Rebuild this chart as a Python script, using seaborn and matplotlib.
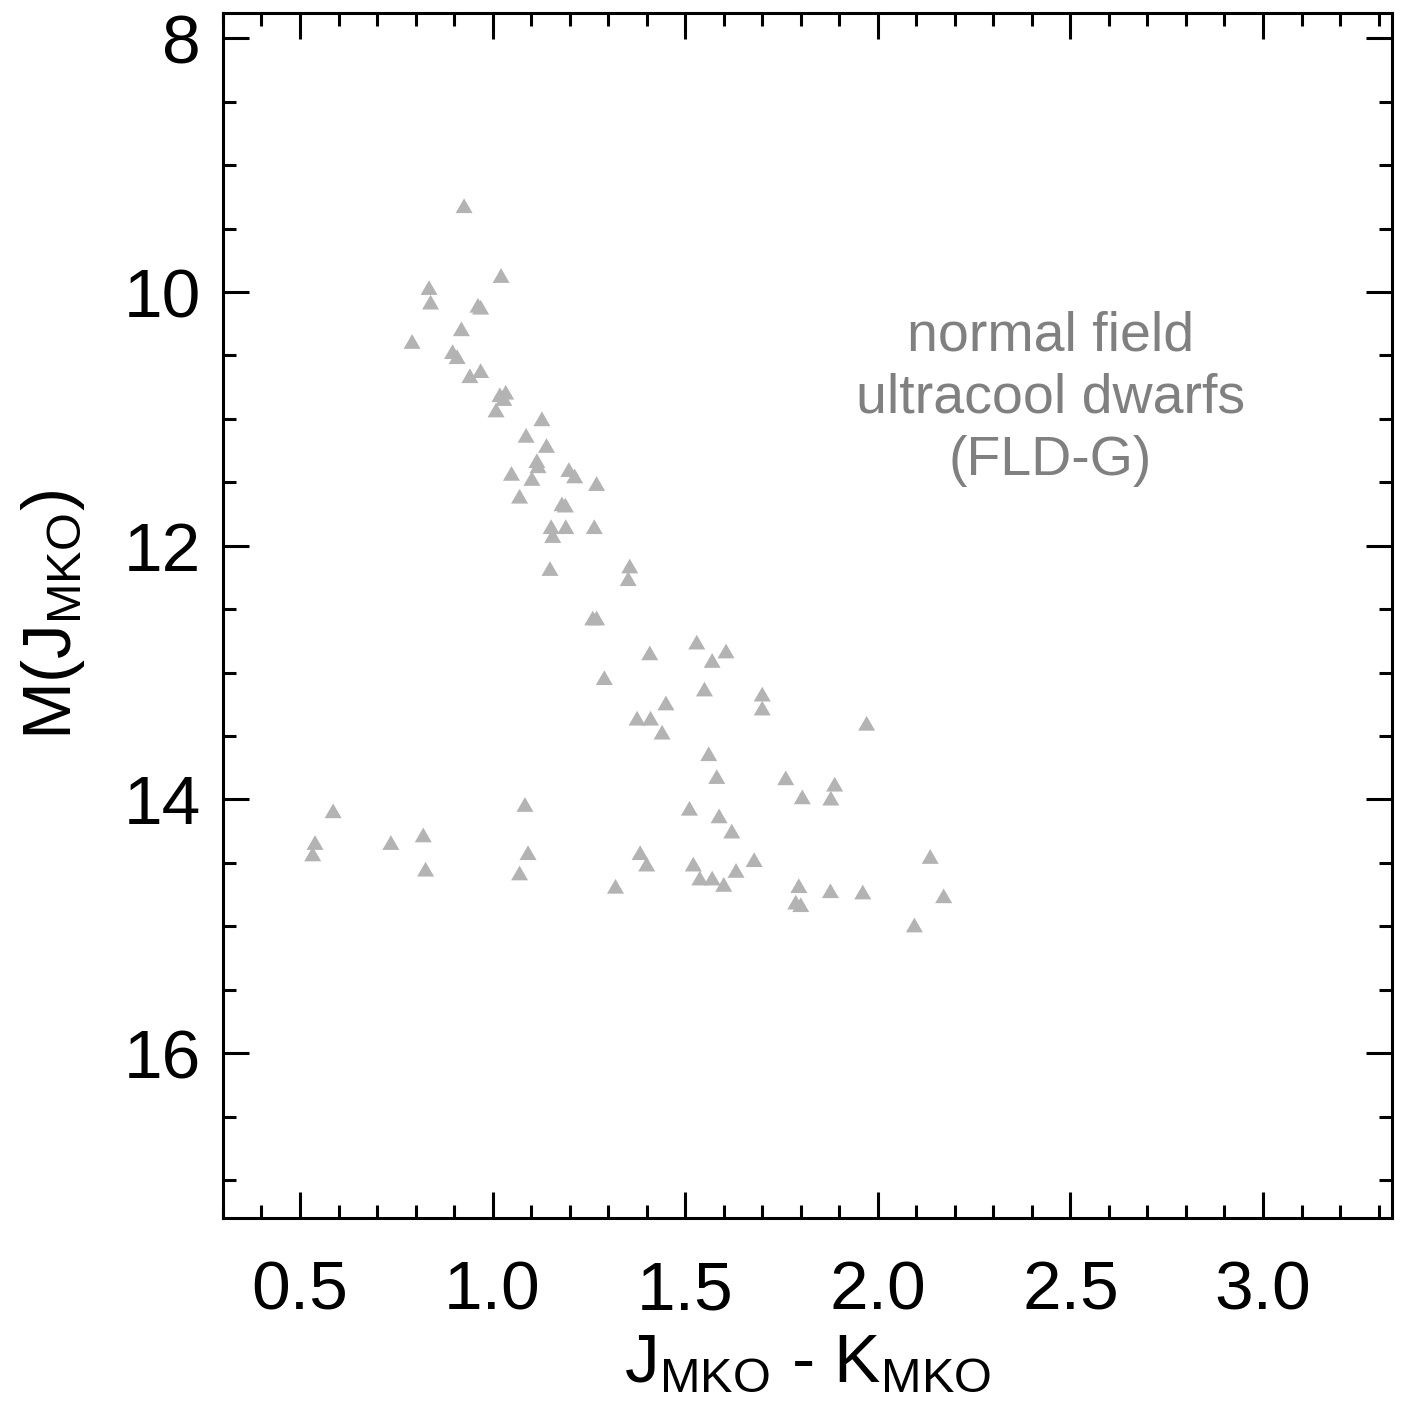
import matplotlib
matplotlib.use("Agg")
import matplotlib.pyplot as plt
import seaborn as sns
import pandas as pd
from matplotlib.ticker import MultipleLocator

jk = [0.926, 1.022, 0.835, 0.839, 0.962, 0.969, 0.919, 0.791, 0.896, 0.908,
      0.969, 0.941, 1.034, 1.019, 1.029, 1.009, 1.128, 1.087, 1.140, 1.115,
      1.118, 1.049, 1.198, 1.213, 1.102, 1.270, 1.070, 1.180, 1.189, 1.152,
      1.190, 1.264, 1.156, 1.149, 1.356, 1.352, 1.260, 1.270, 1.530, 1.408,
      1.606, 1.570, 1.290, 1.550, 1.700, 1.700, 1.450, 1.375, 1.410, 1.971,
      1.440, 1.561, 1.582, 1.761, 1.888, 1.804, 1.878, 1.511, 1.588, 1.621,
      2.136, 1.679, 1.521, 1.632, 1.538, 1.570, 1.600, 1.795, 1.877, 1.961,
      2.171, 1.787, 1.800, 2.095, 0.586, 0.539, 0.533, 0.736, 0.820, 0.826,
      1.084, 1.092, 1.070, 1.383, 1.400, 1.319]
mj = [9.32, 9.87, 9.965, 10.08, 10.105, 10.12, 10.29, 10.39, 10.47, 10.51,
      10.62, 10.66, 10.79, 10.81, 10.84, 10.93, 11.00, 11.13, 11.21, 11.33,
      11.37, 11.43, 11.40, 11.45, 11.47, 11.51, 11.61, 11.67, 11.68, 11.85,
      11.85, 11.85, 11.92, 12.18, 12.16, 12.26, 12.57, 12.57, 12.76, 12.845,
      12.83, 12.905, 13.04, 13.13, 13.17, 13.28, 13.24, 13.36, 13.36, 13.40,
      13.47, 13.64, 13.82, 13.83, 13.88, 13.98, 13.99, 14.07, 14.13, 14.25,
      14.45, 14.475, 14.51, 14.56, 14.62, 14.62, 14.67, 14.68, 14.72, 14.73,
      14.76, 14.81, 14.83, 14.99, 14.09, 14.34, 14.43, 14.34, 14.28, 14.55,
      14.04, 14.42, 14.58, 14.42, 14.51, 14.685]

x_ticks = [0.5, 1.0, 1.5, 2.0, 2.5, 3.0]
y_ticks = [8, 10, 12, 14, 16]
annotation = "normal field\nultracool dwarfs\n(FLD-G)"

sns.set_style("ticks")
plt.rcParams['font.family'] = ['Liberation Sans', 'DejaVu Sans']
plt.rcParams['mathtext.fontset'] = 'custom'
plt.rcParams['mathtext.rm'] = 'Liberation Sans'
plt.rcParams['mathtext.it'] = 'Liberation Sans'
plt.rcParams['text.color'] = 'black'
plt.rcParams['axes.labelcolor'] = 'black'
plt.rcParams['xtick.color'] = 'black'
plt.rcParams['ytick.color'] = 'black'

df = pd.DataFrame({"jk": jk, "mj": mj})

fig = plt.figure(figsize=(14.04, 14.06), dpi=100)
ax = fig.add_axes([0.1588, 0.1337, 0.9915 - 0.1588, 0.9908 - 0.1337])

tri = [(-1, -0.866), (1, -0.866), (0, 0.866)]
sns.scatterplot(data=df, x="jk", y="mj", ax=ax, marker=tri, s=150,
                color="#b3b3b3", edgecolor="none", linewidth=0, legend=False)

ax.set_xlim(0.3, 3.335)
ax.set_ylim(17.3, 7.8)
ax.set_xticks(x_ticks)
ax.set_xticklabels([f"{v:.1f}" for v in x_ticks])
ax.set_yticks(y_ticks)
ax.set_yticklabels([str(v) for v in y_ticks])
ax.xaxis.set_minor_locator(MultipleLocator(0.1))
ax.yaxis.set_minor_locator(MultipleLocator(0.5))

for sp in ax.spines.values():
    sp.set_linewidth(2.2)
    sp.set_visible(True)
    sp.set_color("black")

ax.tick_params(axis='both', which='both', direction='in', top=True, right=True,
               width=2.2, color='black', labelcolor='black')
ax.tick_params(axis='both', which='major', length=19)
ax.tick_params(axis='both', which='minor', length=9.5)
ax.tick_params(axis='x', which='major', labelsize=50, pad=30)
ax.tick_params(axis='y', which='major', labelsize=50, pad=16)

ax.set_xlabel(r"J$_\mathregular{MKO}$ - K$_\mathregular{MKO}$", fontsize=50,
              labelpad=6, color='black')
ax.set_ylabel(r"M(J$_\mathregular{MKO}$)", fontsize=50, labelpad=26, color='black')

ax.text(0.708, 0.680, annotation, transform=ax.transAxes, ha='center', va='center',
        fontsize=40, color='#808080', linespacing=1.25)

fig.savefig("out.png", dpi=100)
